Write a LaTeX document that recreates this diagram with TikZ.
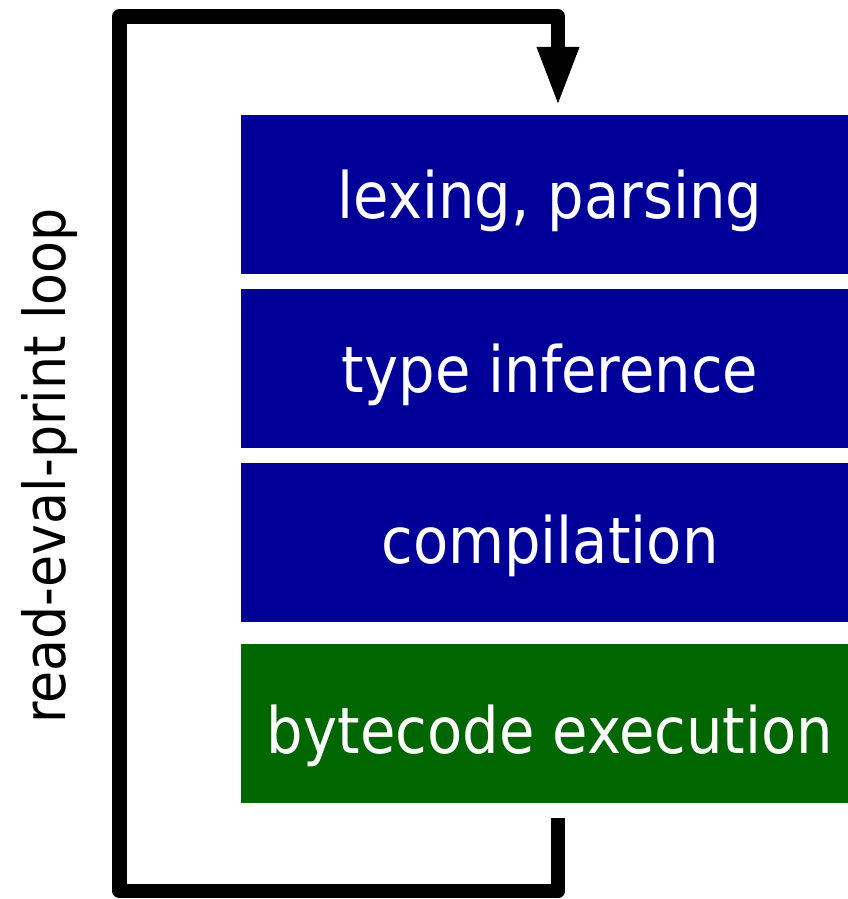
\documentclass[tikz,border=0pt]{standalone}
\usepackage{fontspec}
\setmainfont{DejaVu Sans Condensed}
\usetikzlibrary{arrows.meta}
\definecolor{stageblue}{RGB}{0,0,153}
\definecolor{stagegreen}{RGB}{0,102,0}
\tikzset{
  stagebox/.style={draw=none, inner sep=0pt, minimum width=607pt, minimum height=159pt, anchor=north west},
  stagetext/.style={text=white, anchor=base, inner sep=0pt, font=\fontsize{64}{70}\selectfont},
  loopline/.style={line width=14.5pt, line join=round, -{Triangle[length=60pt,width=38pt]}}
}
\begin{document}
\begin{tikzpicture}[x=1pt,y=-1pt]
\useasboundingbox (0,0) rectangle (848,899);
\node[stagebox, fill=stageblue] (lex) at (241,115) {};
\node[stagebox, fill=stageblue] (type) at (241,289) {};
\node[stagebox, fill=stageblue] (comp) at (241,463) {};
\node[stagebox, fill=stagegreen] (exec) at (241,644) {};
\node[stagetext] (lext) at (550,218) {lexing, parsing};
\node[stagetext] (typet) at (550,392) {type inference};
\node[stagetext] (compt) at (550,563) {compilation};
\node[stagetext] (exect) at (550,753) {bytecode execution};
\coordinate (loopstart) at (558,818);
\coordinate (looptip) at (558,107);
\draw[loopline] (loopstart) -- (558,891) -- (119.5,891) -- (119.5,16.5) -- (558,16.5) -- (looptip);
\node[rotate=90, anchor=base, inner sep=0pt, font=\fontsize{58}{64}\selectfont] (repl) at (65,466) {read-eval-print loop};
\end{tikzpicture}
\end{document}
